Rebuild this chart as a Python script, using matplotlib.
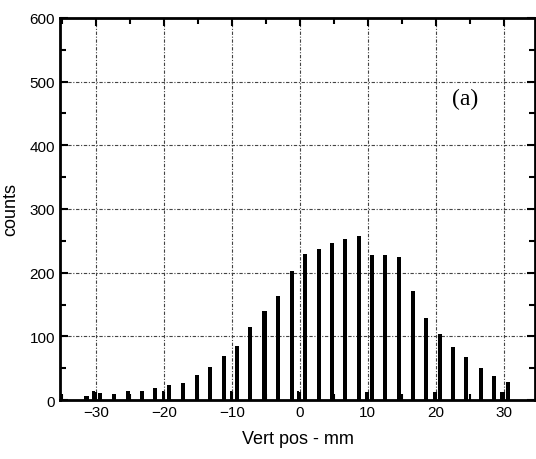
import matplotlib.pyplot as plt
from matplotlib.ticker import MultipleLocator

# main histogram bars (vertical position in mm, counts)
pos = [-31.4, -29.4, -27.3, -25.3, -23.3, -21.3, -19.2, -17.2, -15.2, -13.2,
       -11.2, -9.2, -7.3, -5.2, -3.2, -1.2, 0.7, 2.8, 4.7, 6.6,
       8.7, 10.6, 12.6, 14.6, 16.6, 18.5, 20.6, 22.5, 24.4, 26.6,
       28.6, 30.7]
counts = [7, 11, 10, 15, 15, 19, 23, 27, 39, 52,
          69, 85, 114, 140, 163, 203, 229, 237, 246, 253,
          257, 228, 228, 224, 172, 129, 104, 84, 67, 50,
          38, 29]

# small bars sitting near the grid lines
pos2 = [-30.4, -20.1, -10.1, -0.3, 9.7, 19.7, 29.7]
counts2 = [15, 15, 15, 15, 13, 13, 13]

plt.rcParams['font.family'] = ['Liberation Sans', 'DejaVu Sans']

fig = plt.figure(figsize=(5.36, 4.6), dpi=100)
ax = fig.add_axes([0.112, 0.128, 0.886, 0.831])

ax.bar(pos, counts, width=0.6, color='black', zorder=3)
ax.bar(pos2, counts2, width=0.35, color='black', zorder=3)

ax.set_xlim(-35.3, 34.6)
ax.set_ylim(0, 600)
ax.xaxis.set_major_locator(MultipleLocator(10))
ax.xaxis.set_minor_locator(MultipleLocator(5))
ax.yaxis.set_major_locator(MultipleLocator(100))
ax.yaxis.set_minor_locator(MultipleLocator(50))

ax.grid(True, which='major', color='#444444', linestyle=(0, (3, 1.5, 1, 1.5)), linewidth=0.8, zorder=1)
ax.tick_params(direction='in', which='both', top=True, right=True, labelsize=11, width=1.5)
ax.tick_params(which='major', length=6)
ax.tick_params(which='minor', length=4)
for s in ax.spines.values():
    s.set_linewidth(2)

ax.set_xlabel('Vert pos - mm', fontsize=13, labelpad=8)
ax.set_ylabel('counts', fontsize=13)
ax.yaxis.set_label_coords(-0.086, 0.5)
ax.text(0.853, 0.79, '(a)', transform=ax.transAxes, fontsize=17,
        family='Liberation Serif', ha='center', va='center')

fig.savefig('out.png', dpi=100)
